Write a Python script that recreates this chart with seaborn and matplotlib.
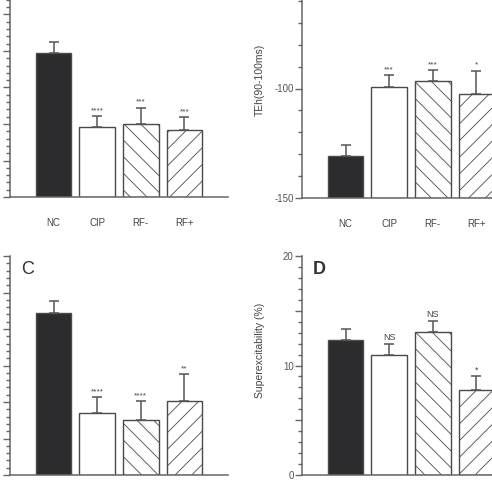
import numpy as np
import pandas as pd
import matplotlib
matplotlib.use('Agg')
import matplotlib.pyplot as plt
import seaborn as sns
from matplotlib.ticker import MultipleLocator, FixedLocator, FixedFormatter

sns.set_style("ticks")
plt.rcParams['font.family'] = ['Liberation Sans', 'DejaVu Sans']
plt.rcParams['axes.unicode_minus'] = False
plt.rcParams['hatch.linewidth'] = 0.6
plt.rcParams['hatch.color'] = '#666666'

# ==================== DATA ====================
groups = ['NC', 'CIP', 'RF-', 'RF+']

a_mean = [39.5, 19.3, 19.9, 18.3]
a_sem = [3.0, 2.8, 4.6, 3.5]
a_sig = ['', '****', '***', '***']

b_mean = [-131.0, -99.5, -96.8, -102.6]
b_sem = [5.0, 5.5, 5.1, 10.8]
b_sig = ['', '***', '***', '*']

c_mean = [44.5, 16.9, 15.0, 20.3]
c_sem = [3.2, 4.4, 5.2, 7.3]
c_sig = ['', '****', '****', '**']

d_mean = [12.3, 11.0, 13.1, 7.8]
d_sem = [1.0, 1.0, 1.0, 1.2]
d_sig = ['', 'NS', 'NS', '*']

fills = ['#2b2b30', 'white', 'white', 'white']
hatches = [None, None, '\\\\', '//']
edge = '#4a4a4a'
grey = '#555555'


def bar_panel(ax, mean, sem, sig, ylim, base=0.0, sig_size=6):
    df = pd.DataFrame({'group': groups, 'value': mean})
    sns.barplot(data=df, x='group', y='value', hue='group', palette=fills,
                width=0.82, legend=False, ax=ax, edgecolor=edge, linewidth=1.0)
    for patch, h in zip(ax.patches, hatches):
        if base != 0.0:
            top = patch.get_y() + patch.get_height()
            patch.set_y(base)
            patch.set_height(top - base)
        if h:
            patch.set_hatch(h)
        patch.set_edgecolor(edge)
    x = np.arange(len(groups))
    ax.errorbar(x, mean, yerr=[np.zeros(len(sem)), sem], fmt='none',
                ecolor=grey, elinewidth=1.1, capsize=3.3, capthick=1.1, zorder=3)
    span = ylim[1] - ylim[0]
    for i, s in enumerate(sig):
        if s:
            ax.text(i, mean[i] + sem[i] + span * 0.008, s, ha='center', va='bottom',
                    fontsize=sig_size, color='#444444')
    ax.set_xlim(-1.0, 4.0)
    ax.set_ylim(*ylim)
    sns.despine(ax=ax)
    for sp in ['left', 'bottom']:
        ax.spines[sp].set_color('#666666')
        ax.spines[sp].set_linewidth(1.1)
    ax.set_xlabel('')
    ax.set_ylabel('')
    ax.tick_params(axis='x', length=0, pad=15, labelsize=7, colors='#444444')
    ax.tick_params(axis='y', which='major', length=5, width=1.0, color='#666666',
                   labelsize=7, labelcolor='#555555', pad=1)
    ax.tick_params(axis='y', which='minor', length=3, width=1.0, color='#666666')


fig = plt.figure(figsize=(4.92, 4.88), dpi=100)
W, H = 492.0, 488.0
aw = 218 / W
ah = 219 / H

# A (top left, labels cut off)
axA = fig.add_axes([10 / W, 1 - 197 / H, aw, ah])
bar_panel(axA, a_mean, a_sem, a_sig, (0, 60))
axA.yaxis.set_major_locator(MultipleLocator(10))
axA.yaxis.set_minor_locator(MultipleLocator(2))
axA.tick_params(axis='y', labelleft=False)

# B (top right)
axB = fig.add_axes([302 / W, 1 - 198 / H, aw, ah])
bar_panel(axB, b_mean, b_sem, b_sig, (-150, -50), base=-150)
axB.yaxis.set_major_locator(FixedLocator([-150, -100]))
axB.yaxis.set_minor_locator(MultipleLocator(10))
axB.set_ylabel('TEh(90-100ms)', fontsize=7.5, color='#444444')
axB.yaxis.set_label_coords(-0.17, 0.54)

# C (bottom left)
axC = fig.add_axes([10 / W, 1 - 475 / H, aw, ah])
bar_panel(axC, c_mean, c_sem, c_sig, (0, 60))
axC.yaxis.set_major_locator(MultipleLocator(10))
axC.yaxis.set_minor_locator(MultipleLocator(2))
axC.tick_params(axis='y', labelleft=False)
axC.tick_params(axis='x', labelbottom=False)
axC.text(0.05, 0.94, 'C', transform=axC.transAxes, fontsize=13, va='center',
         color='#333333')

# D (bottom right)
axD = fig.add_axes([302 / W, 1 - 475 / H, aw, ah])
bar_panel(axD, d_mean, d_sem, d_sig, (0, 20), sig_size=6.5)
axD.yaxis.set_major_locator(FixedLocator([0, 5, 10, 15, 20]))
axD.yaxis.set_major_formatter(FixedFormatter(['0', '', '10', '', '20']))
axD.yaxis.set_minor_locator(MultipleLocator(1))
axD.tick_params(axis='x', labelbottom=False)
axD.set_ylabel('Superexcitability (%)', fontsize=7.5, color='#444444')
axD.yaxis.set_label_coords(-0.17, 0.57)
axD.text(0.05, 0.94, 'D', transform=axD.transAxes, fontsize=13, va='center',
         fontweight='bold', color='#333333')

fig.savefig('out.png', dpi=100)
